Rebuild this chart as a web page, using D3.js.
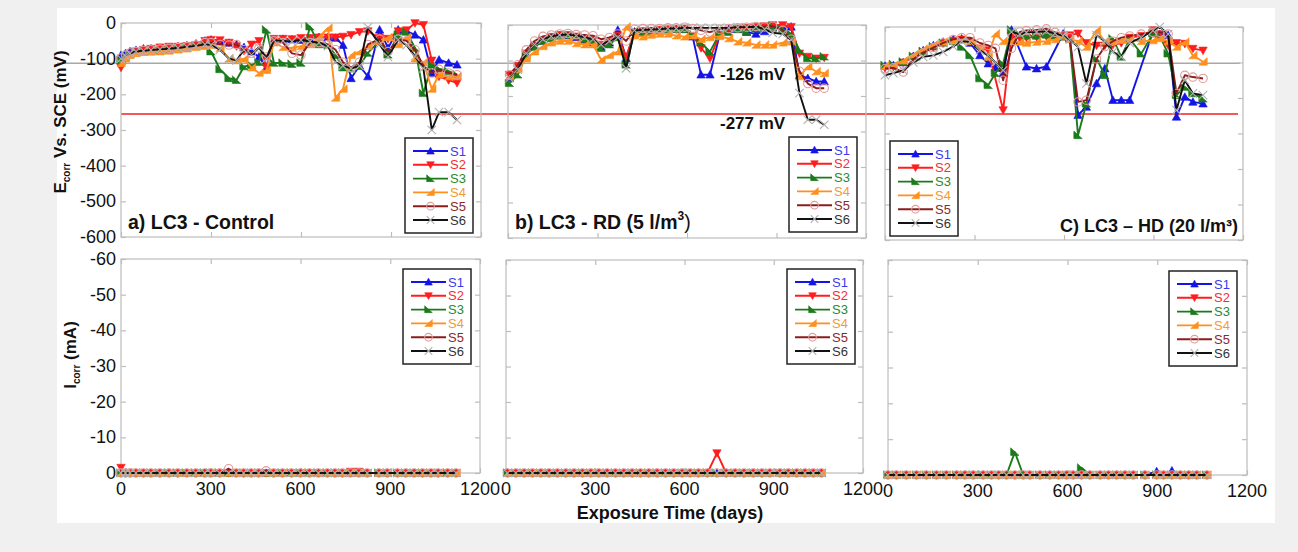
<!DOCTYPE html>
<html>
<head>
<meta charset="utf-8">
<script src="https://cdn.jsdelivr.net/npm/d3@7"></script>
<style>
body { margin: 0; background: #f0f0f0; }
text { font-family: "Liberation Sans", Arial, sans-serif; }
</style>
</head>
<body>
<svg width="1298" height="552"></svg>
<script>
// ---- data ----
var sampleNames = ["S1", "S2", "S3", "S4", "S5", "S6"];
var xTicks = [0, 300, 600, 900, 1200];
var eTicks = [0, -100, -200, -300, -400, -500, -600];
var iTicks = [-60, -50, -40, -30, -20, -10, 0];
var panelTitles = ["a) LC3 - Control", "b) LC3 - RD (5 l/m", "C) LC3 \u2013 HD (20 l/m\u00b3)"];
var thresholdLines = [-113, -255];
var thresholdLabels = ["-126 mV", "-277 mV"];

// exposure days (one sampling grid per panel)
var daysA = [0,15,30,50,75,100,130,160,190,220,250,280,300,330,360,385,410,435,460,485,510,540,570,600,630,660,690,715,740,767,795,823,862,890,924,952,980,1008,1036,1060,1092,1120];
var daysB = [5,33,61,89,117,145,173,201,229,257,285,312,340,368,396,424,452,480,508,536,564,592,619,647,677,709,740,770,800,831,860,887,921,949,977,1005,1033,1060];
var daysC = [0,28,61,95,128,162,195,229,257,285,318,346,370,396,424,452,474,508,541,570,597,619,647,675,709,737,764,792,820,859,898,921,949,977,1005,1032,1066];

// Ecorr (mV), rows S1..S6
var ecorrA = [
  [-90,-85,-80,-76,-72,-72,-70,-68,-66,-63,-58,-50,-47,-52,-56,-60,-68,-80,-95,-125,-47,-45,-46,-48,-44,-40,-40,-42,-62,-155,-120,-150,-19,-70,-19,-23,-33,-47,-141,-103,-112,-117],
  [-125,-100,-88,-80,-75,-72,-68,-66,-66,-64,-62,-50,-47,-48,-55,-65,-78,-60,-50,-125,-44,-44,-45,-42,-42,-40,-40,-40,-38,-33,-25,-23,-42,-44,-23,-20,0,-5,-105,-150,-160,-168],
  [-105,-95,-88,-82,-80,-80,-78,-75,-72,-68,-64,-62,-80,-130,-155,-160,-122,-118,-110,-19,-112,-112,-115,-112,-10,-60,-62,-90,-125,-128,-120,-84,-50,-89,-33,-25,-70,-197,-117,-128,-135,-145],
  [-113,-100,-90,-85,-82,-80,-80,-78,-75,-72,-68,-65,-62,-70,-100,-105,-100,-125,-140,-132,-55,-68,-70,-65,-60,-40,-14,-210,-185,-90,-80,-65,-52,-40,-60,-40,-100,-110,-185,-145,-150,-150],
  [-98,-90,-84,-80,-77,-75,-73,-71,-69,-66,-62,-55,-55,-60,-62,-60,-75,-85,-70,-95,-50,-55,-85,-90,-55,-55,-60,-75,-110,-125,-110,-60,-45,-80,-45,-50,-75,-120,-140,-130,-140,-145],
  [-100,-92,-85,-80,-78,-76,-74,-72,-70,-67,-64,-60,-62,-75,-100,-105,-75,-89,-68,-100,-48,-50,-52,-48,-52,-55,-65,-110,-120,-127,-120,-12,-60,-95,-47,-62,-94,-127,-300,-250,-250,-272]
];
var ecorrB = [
  [-150,-120,-82,-60,-45,-35,-30,-30,-35,-42,-50,-62,-50,-14,-94,-19,-20,-18,-15,-14,-12,-12,-33,-140,-140,-28,-12,-12,-20,-25,-18,-8,-5,-5,-141,-150,-159,-159],
  [-140,-115,-80,-58,-42,-33,-28,-28,-32,-38,-42,-55,-48,-30,-89,-22,-18,-16,-14,-12,-12,-10,-30,-65,-94,-28,-15,-10,-8,-5,-3,0,0,-5,-80,-89,-94,-92],
  [-164,-140,-85,-62,-45,-38,-30,-28,-32,-40,-45,-65,-55,-35,-112,-20,-20,-17,-14,-15,-12,-12,-25,-50,-75,-25,-20,-12,-18,-10,-8,-5,-12,-25,-70,-94,-94,-89],
  [-145,-125,-95,-75,-60,-50,-45,-45,-52,-55,-55,-98,-85,-75,-5,-30,-33,-28,-25,-25,-30,-33,-30,-40,-35,-32,-38,-47,-50,-56,-56,-56,-50,-47,-145,-117,-131,-136],
  [-140,-112,-70,-45,-32,-28,-25,-24,-27,-28,-30,-40,-35,-25,-45,-12,-10,-10,-10,-8,-8,-6,-10,-15,-20,-12,-10,-8,-6,-4,-5,-3,-15,-40,-130,-165,-178,-178],
  [-150,-125,-80,-55,-40,-32,-28,-27,-30,-35,-40,-55,-45,-35,-122,-15,-14,-13,-12,-10,-10,-8,-8,-8,-8,-8,-8,-6,-6,-5,-12,-22,-25,-42,-192,-267,-267,-281]
];
var ecorrC = [
  [-110,-108,-100,-82,-66,-52,-42,-35,-33,-45,-80,-103,-115,-131,-8,null,-112,-117,-112,null,-19,-30,-248,-225,-159,-117,-206,-206,-206,null,-14,-20,-23,-253,-197,-211,-216],
  [-115,-112,-100,-85,-70,-58,-45,-38,-35,-40,-60,-65,null,-234,-28,-32,-30,-28,-26,-25,-25,-23,-18,-45,-52,-52,-50,-45,-30,-25,-9,-20,-51,-45,-47,-61,-66],
  [-108,-105,-98,-82,-68,-55,-45,-40,-56,-80,-145,-164,-130,-103,-8,-20,-25,-25,-22,-25,-28,-33,-305,-216,-89,-136,-33,-84,-33,-75,-19,-25,-75,-192,-169,-187,-202],
  [-110,-108,-95,-78,-62,-50,-42,-38,-36,-40,-55,-84,-19,-40,-40,-42,-45,-42,-40,-35,-23,-35,-40,-56,-9,-40,-40,-37,-35,-40,-38,-32,-40,-56,-42,-80,-98],
  [-117,-115,-127,-90,-72,-58,-45,-35,-30,-30,-45,-52,-60,-150,-60,-14,-10,-8,-5,-15,-25,-30,-211,-206,-90,-55,-40,-30,-25,-20,-15,-15,-20,-187,-136,-141,-145],
  [-136,-130,-122,-100,-84,-80,-70,-55,-40,-42,-66,-80,-100,-122,-14,-20,-15,-14,-12,-18,-25,-35,-56,-159,-23,-40,-70,-84,-45,-30,-10,0,-20,-234,-150,-187,-192]
];

// Icorr (mA), rows S1..S6
var icorrA = [
  [0,0,0,0,0,0,0,0,0,0,0,0,0,0,0,0,0,0,0,0,0,0,0,0,0,0,0,0,0,0,0,0,0,0,0,0,0,0,0,0,0,0],
  [-1.5,0,0,0,0,0,0,0,0,0,0,0,0,0,0,0,0,0,0,0,0,0,0,0,0,0,0,0,0,-0.4,-0.4,0,0,0,0,0,0,0,0,0,0,0],
  [0,0,0,0,0,0,0,0,0,0,0,0,0,0,0,0,0,0,0,0,0,0,0,0,0,0,0,0,0,0,0,0,0,0,0,0,0,0,0,0,0,0],
  [0,0,0,0,0,0,0,0,0,0,0,0,0,0,0,0,0,0,0,0,0,0,0,0,0,0,0,0,0,0,0,0,0,0,0,0,0,0,0,0,0,0],
  [0,0,0,0,0,0,0,0,0,0,0,0,0,0,-1.2,0,0,0,0,-0.6,0,0,0,0,0,0,0,0,0,0,0,0,0,0,0,0,0,0,0,0,0,0],
  [0,0,0,0,0,0,0,0,0,0,0,0,0,0,0,0,0,0,0,0,0,0,0,0,0,0,0,0,0,0,0,0,0,0,0,0,0,0,0,0,0,0]
];
var icorrB = [
  [0,0,0,0,0,0,0,0,0,0,0,0,0,0,0,0,0,0,0,0,0,0,0,0,0,0,0,0,0,0,0,0,0,0,0,0,0,0],
  [0,0,0,0,0,0,0,0,0,0,0,0,0,0,0,0,0,0,0,0,0,0,0,0,0,-5.6,0,0,0,0,0,0,0,0,0,0,0,0],
  [0,0,0,0,0,0,0,0,0,0,0,0,0,0,0,0,0,0,0,0,0,0,0,0,0,0,0,0,0,0,0,0,0,0,0,0,0,0],
  [0,0,0,0,0,0,0,0,0,0,0,0,0,0,0,0,0,0,0,0,0,0,0,0,0,0,0,0,0,0,0,0,0,0,0,0,0,0],
  [0,0,0,0,0,0,0,0,0,0,0,0,0,0,0,0,0,0,0,0,0,0,0,0,0,0,0,0,0,0,0,0,0,0,0,0,0,0],
  [0,0,0,0,0,0,0,0,0,0,0,0,0,0,0,0,0,0,0,0,0,0,0,0,0,0,0,0,0,0,0,0,0,0,0,0,0,0]
];
var icorrC = [
  [0,0,0,0,0,0,0,0,0,0,0,0,0,0,0,0,0,0,0,0,0,0,0,0,0,0,0,0,0,0,-1.0,0,-1.2,0,0,0,0],
  [0,0,0,0,0,0,0,0,0,0,0,0,0,0,0,0,0,0,0,0,0,0,0,0,0,0,0,0,0,0,0,0,0,0,0,0,0],
  [0,0,0,0,0,0,0,0,0,0,0,0,0,0,-6.4,0,0,0,0,0,0,0,-2.0,0,0,0,0,0,0,0,0,0,0,0,0,0,0],
  [0,0,0,0,0,0,0,0,0,0,0,0,0,0,0,0,0,0,0,0,0,0,0,0,0,0,0,0,0,0,0,0,0,0,0,0,0],
  [0,0,0,0,0,0,0,0,0,0,0,0,0,0,0,0,0,0,0,0,0,0,0,0,0,0,0,0,0,0,0,0,0,0,0,0,0],
  [0,0,0,0,0,0,0,0,0,0,0,0,0,0,0,0,0,0,0,0,0,0,0,0,0,0,0,0,0,0,0,0,0,0,0,0,0]
];

// ---- styles ----
var lineColors = ["#1414e6", "#ff1c1c", "#1b7a1b", "#ff901e", "#8a1c1c", "#111111"];
var labelColors = ["#3a3aee", "#f03030", "#2a8a2a", "#f59a30", "#8a2a2a", "#333333"];
var frameColor = "#bdbdbd";

var svg = d3.select("svg"),
    width = +svg.attr("width"),
    height = +svg.attr("height");

svg.append("rect").attr("width", width).attr("height", height).attr("fill", "#f0f0f0");
svg.append("rect").attr("x", 57).attr("y", 8).attr("width", 1218).attr("height", 515).attr("fill", "#ffffff");

// panel boxes: top row (Ecorr) and bottom row (Icorr)
var topBoxes = [
  {x0: 121, x1: 481, y0: 23, y1: 237},
  {x0: 508, x1: 866, y0: 25, y1: 238},
  {x0: 885, x1: 1243, y0: 27, y1: 240}
];
var botBoxes = [
  {x0: 121, x1: 480, y0: 259, y1: 473},
  {x0: 506, x1: 863, y0: 260, y1: 473},
  {x0: 888, x1: 1247, y0: 260, y1: 475}
];
var topLegends = [[405, 138], [789, 137], [890, 141]];
var botLegends = [[403, 269], [787, 269], [1169, 271]];

var allDays = [daysA, daysB, daysC];
var allE = [ecorrA, ecorrB, ecorrC];
var allI = [icorrA, icorrB, icorrC];

//marker shapes for each sample
function markerPath(k, s) {
  if (k == 0) return "M0," + (-s) + "L" + s + "," + (s * 0.8) + "L" + (-s) + "," + (s * 0.8) + "Z";
  if (k == 1) return "M0," + s + "L" + s + "," + (-s * 0.8) + "L" + (-s) + "," + (-s * 0.8) + "Z";
  if (k == 2) return "M" + (-s) + "," + (-s) + "L" + s + "," + (s * 0.8) + "L" + (-s) + "," + (s * 0.8) + "Z";
  if (k == 3) return "M" + s + "," + (-s) + "L" + s + "," + (s * 0.8) + "L" + (-s) + "," + (s * 0.8) + "Z";
  if (k == 4) return "M" + s + ",0A" + s + "," + s + " 0 1,1 " + (-s) + ",0A" + s + "," + s + " 0 1,1 " + s + ",0Z";
  return "M" + (-s) + "," + (-s) + "L" + s + "," + s + "M" + (-s) + "," + s + "L" + s + "," + (-s);
}

function drawMarkers(sel, k, s) {
  sel.attr("d", markerPath(k, s))
    .attr("fill", k < 4 ? lineColors[k] : "none")
    .attr("stroke", k < 4 ? lineColors[k] : (k == 4 ? "#e39a9a" : "#b0b0b0"))
    .attr("stroke-width", k < 4 ? 0.6 : 1.1);
}

// threshold scale (panel a)
var yThresh = d3.scaleLinear().domain([-600, 0]).range([topBoxes[0].y1, topBoxes[0].y0]);

// grey and red reference lines across the figure
svg.append("line")
  .attr("x1", 57).attr("x2", 1240)
  .attr("y1", yThresh(thresholdLines[0])).attr("y2", yThresh(thresholdLines[0]))
  .attr("stroke", "#a8a8a8").attr("stroke-width", 1.6);
svg.append("line")
  .attr("x1", 121).attr("x2", 1238)
  .attr("y1", yThresh(thresholdLines[1])).attr("y2", yThresh(thresholdLines[1]))
  .attr("stroke", "#f02020").attr("stroke-width", 1.6);

function drawPanel(box, days, rows, yDomain, yTickVals, showY, showX, legendPos) {
  var x = d3.scaleLinear().domain([0, 1200]).range([box.x0, box.x1]);
  var y = d3.scaleLinear().domain(yDomain).range([box.y1, box.y0]);
  var g = svg.append("g");

  // frame
  g.append("rect")
    .attr("x", box.x0).attr("y", box.y0)
    .attr("width", box.x1 - box.x0).attr("height", box.y1 - box.y0)
    .attr("fill", "none").attr("stroke", frameColor).attr("stroke-width", 1.2);

  // inner ticks on all four sides
  var xAxB = d3.axisBottom(x).tickValues(xTicks).tickSize(-5).tickFormat("");
  var xAxT = d3.axisTop(x).tickValues(xTicks).tickSize(-5).tickFormat("");
  var yAxL = d3.axisLeft(y).tickValues(yTickVals).tickSize(-5).tickFormat("");
  var yAxR = d3.axisRight(y).tickValues(yTickVals).tickSize(-5).tickFormat("");
  [[xAxB, "translate(0," + box.y1 + ")"], [xAxT, "translate(0," + box.y0 + ")"],
   [yAxL, "translate(" + box.x0 + ",0)"], [yAxR, "translate(" + box.x1 + ",0)"]].forEach(function (a) {
    var ag = g.append("g").attr("transform", a[1]).call(a[0]);
    ag.select(".domain").remove();
    ag.selectAll("line").attr("stroke", frameColor).attr("stroke-width", 1.2);
  });

  if (showY) {
    yTickVals.forEach(function (v) {
      g.append("text")
        .attr("x", box.x0 - 5).attr("y", y(v) + 6)
        .attr("text-anchor", "end").attr("font-size", 18).attr("fill", "#111")
        .text(v);
    });
  }
  if (showX) {
    xTicks.forEach(function (v) {
      g.append("text")
        .attr("x", x(v)).attr("y", box.y1 + 22)
        .attr("text-anchor", "middle").attr("font-size", 18).attr("fill", "#111")
        .text(v);
    });
  }

  var line = d3.line()
    .x(function (d) { return x(d[0]); })
    .y(function (d) { return y(d[1]); });

  rows.forEach(function (vals, k) {
    var pts = days.map(function (d, j) { return [d, vals[j]]; })
      .filter(function (p) { return p[1] != null; });
    g.append("path").datum(pts)
      .attr("d", line)
      .attr("fill", "none")
      .attr("stroke", lineColors[k])
      .attr("stroke-width", 1.9)
      .attr("stroke-linejoin", "round");
    g.append("g").selectAll("path").data(pts).enter().append("path")
      .attr("transform", function (d) { return "translate(" + x(d[0]) + "," + y(d[1]) + ")"; })
      .call(drawMarkers, k, 4.2);
  });

  // legend
  var lg = g.append("g").attr("transform", "translate(" + legendPos[0] + "," + legendPos[1] + ")");
  lg.append("rect").attr("width", 68).attr("height", 95)
    .attr("fill", "#fff").attr("stroke", "#222").attr("stroke-width", 1.5);
  sampleNames.forEach(function (name, k) {
    var ly = 13 + k * 13.8;
    lg.append("line").attr("x1", 8).attr("x2", 43).attr("y1", ly).attr("y2", ly)
      .attr("stroke", lineColors[k]).attr("stroke-width", 1.9);
    lg.append("path").attr("transform", "translate(25.5," + ly + ")").call(drawMarkers, k, 3.8);
    lg.append("text").attr("x", 45).attr("y", ly + 4.5)
      .attr("font-size", 13).attr("fill", labelColors[k]).text(name);
  });
}

for (var p = 0; p < 3; p++) {
  drawPanel(topBoxes[p], allDays[p], allE[p], [-600, 0], eTicks, p == 0, false, topLegends[p]);
  drawPanel(botBoxes[p], allDays[p], allI[p], [0, -60], iTicks, p == 0, true, botLegends[p]);
}

// threshold annotations
svg.append("text").attr("x", 720).attr("y", yThresh(thresholdLines[0]) + 17)
  .attr("font-size", 17).attr("font-weight", "bold").attr("fill", "#111").text(thresholdLabels[0]);
svg.append("text").attr("x", 720).attr("y", yThresh(thresholdLines[1]) + 15)
  .attr("font-size", 17).attr("font-weight", "bold").attr("fill", "#111").text(thresholdLabels[1]);

// panel titles
svg.append("text").attr("x", 128).attr("y", 229)
  .attr("font-size", 19.5).attr("font-weight", "bold").attr("fill", "#111").text(panelTitles[0]);
var tb = svg.append("text").attr("x", 515).attr("y", 229)
  .attr("font-size", 19.5).attr("font-weight", "bold").attr("fill", "#111");
tb.append("tspan").text(panelTitles[1]);
tb.append("tspan").attr("dy", -9).attr("font-size", 12).text("3");
tb.append("tspan").attr("dy", 9).attr("font-weight", "normal").text(")");
svg.append("text").attr("x", 1238).attr("y", 232).attr("text-anchor", "end")
  .attr("font-size", 18).attr("font-weight", "bold").attr("fill", "#111").text(panelTitles[2]);

// axis titles
var ye = svg.append("text").attr("transform", "translate(66,122) rotate(-90)")
  .attr("text-anchor", "middle").attr("font-size", 17).attr("font-weight", "bold").attr("fill", "#111");
ye.append("tspan").text("E");
ye.append("tspan").attr("dy", 4).attr("font-size", 10).text("corr");
ye.append("tspan").attr("dy", -4).text(" Vs. SCE (mV)");

var yi = svg.append("text").attr("transform", "translate(76,355) rotate(-90)")
  .attr("text-anchor", "middle").attr("font-size", 17).attr("font-weight", "bold").attr("fill", "#111");
yi.append("tspan").text("I");
yi.append("tspan").attr("dy", 4).attr("font-size", 10).text("corr");
yi.append("tspan").attr("dy", -4).text(" (mA)");

svg.append("text").attr("x", 670).attr("y", 519).attr("text-anchor", "middle")
  .attr("font-size", 18).attr("font-weight", "bold").attr("fill", "#111").text("Exposure Time (days)");
</script>
</body>
</html>
